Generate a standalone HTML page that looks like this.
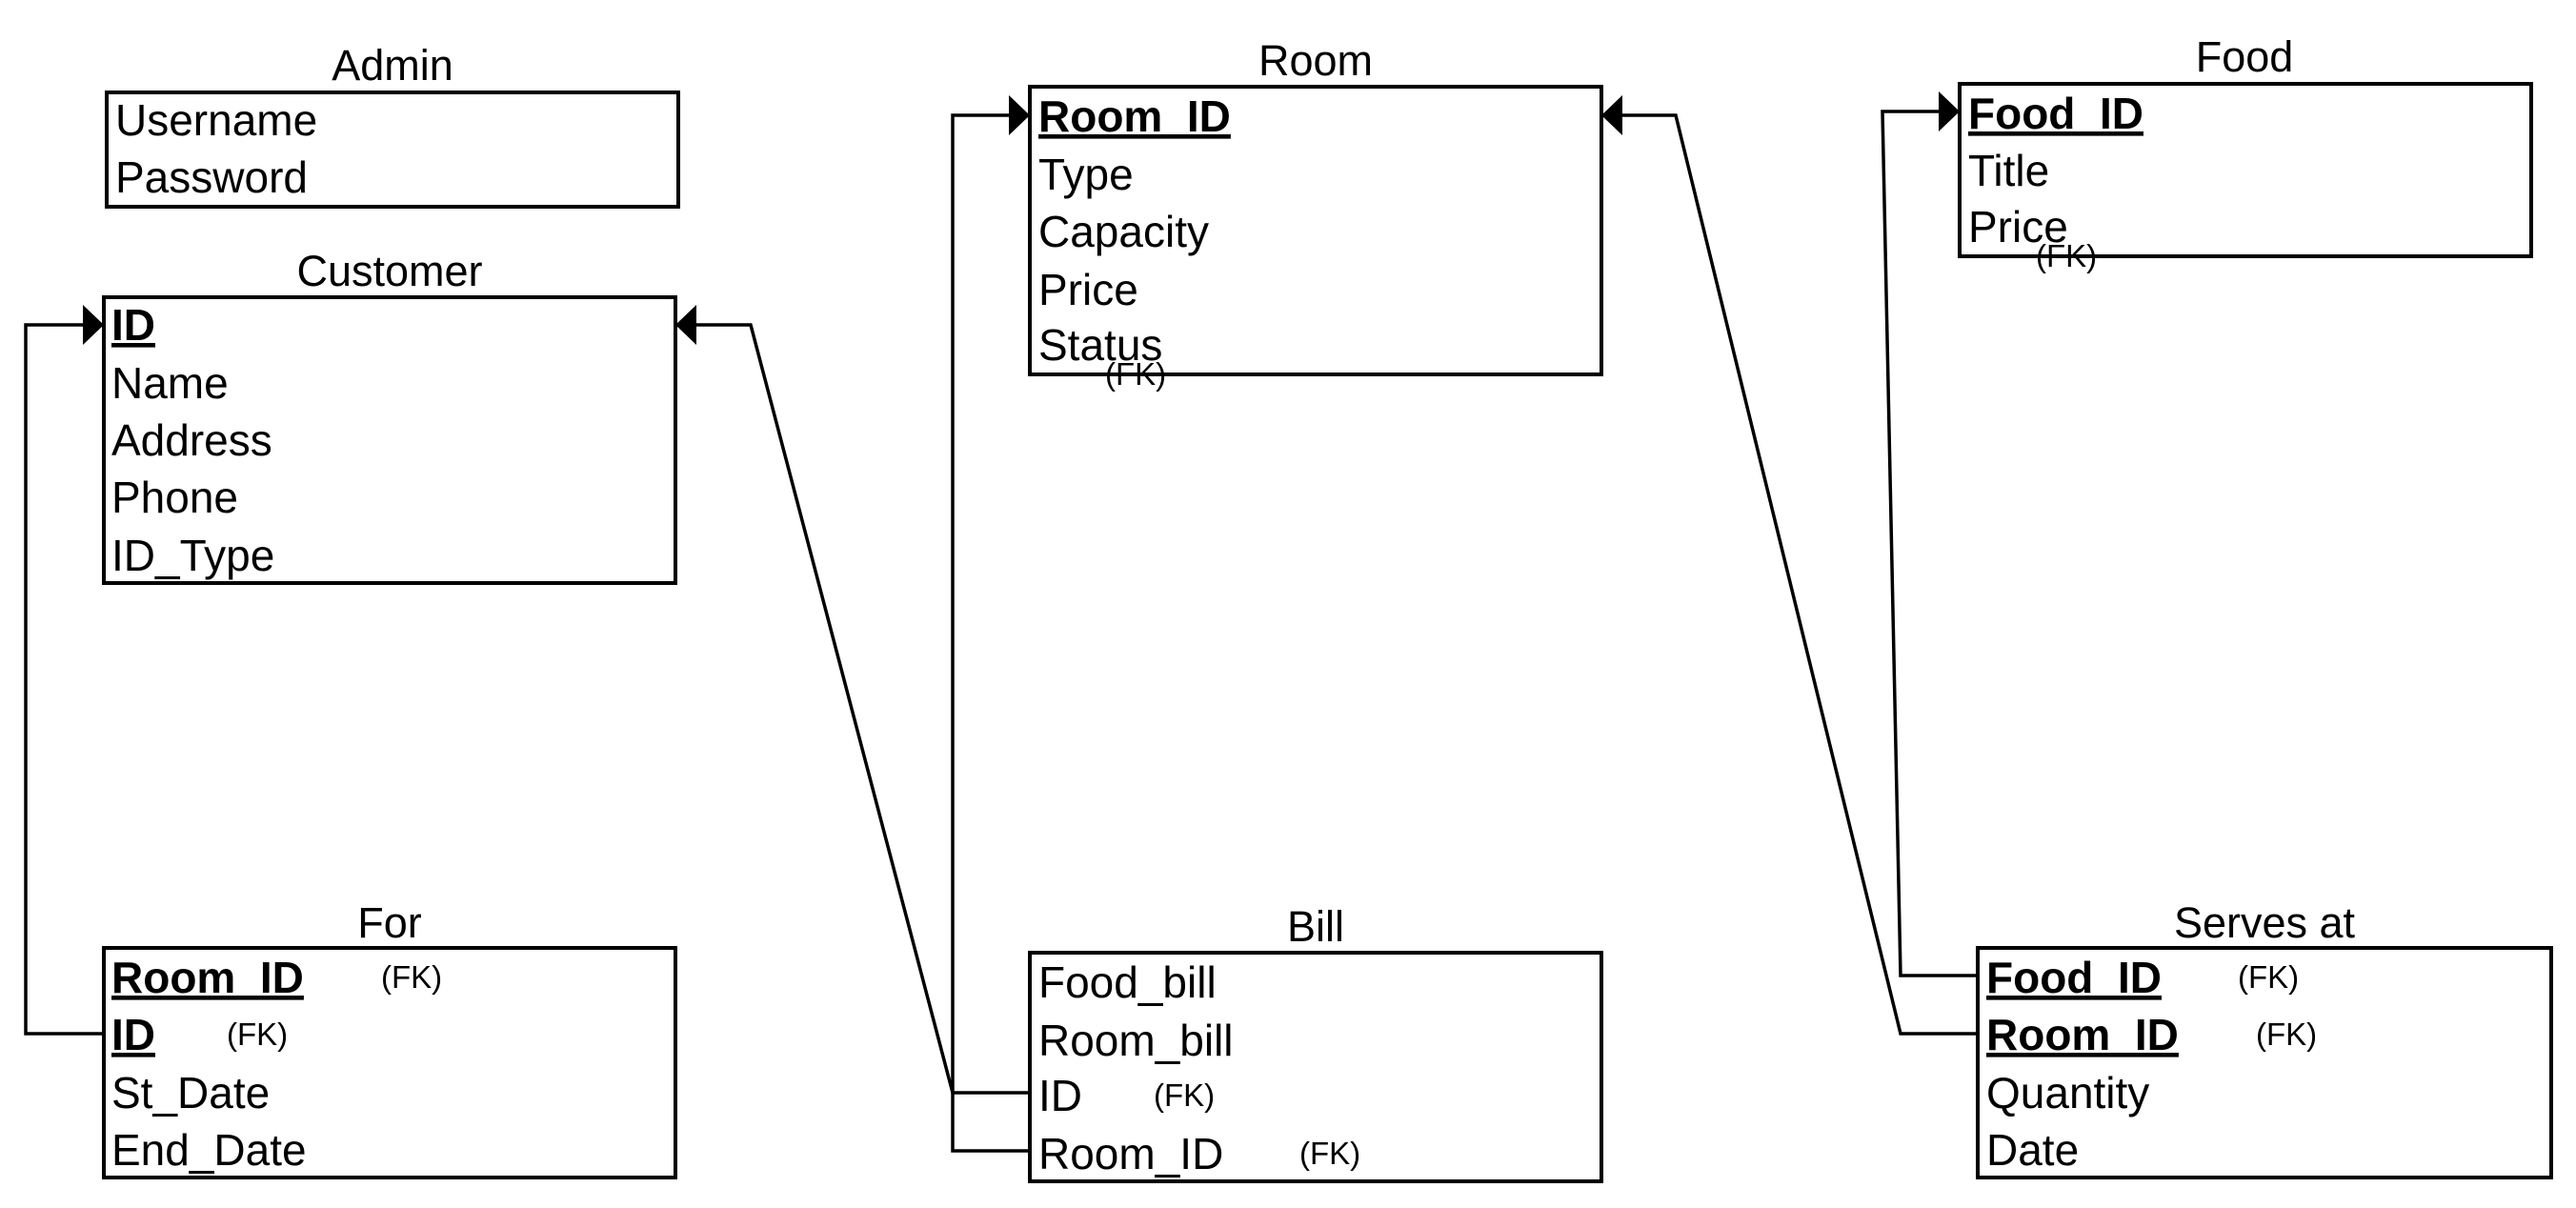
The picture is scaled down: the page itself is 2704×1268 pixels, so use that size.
<!DOCTYPE html>
<html><head><meta charset="utf-8"><style>
html,body{margin:0;padding:0;background:#fff;}
svg{display:block;}
text{font-family:"Liberation Sans",Arial,sans-serif;fill:#000;}
.t{font-size:46px;}
.h{font-size:45px;text-anchor:middle;}
.b{font-size:46px;font-weight:bold;text-decoration:underline;}
.fk{font-size:33px;}
.box{fill:none;stroke:#000;stroke-width:4;}
.ln{fill:none;stroke:#000;stroke-width:3.5;}
</style></head><body>
<svg width="2704" height="1268" viewBox="0 0 2704 1268" xmlns="http://www.w3.org/2000/svg">
<!-- Admin -->
<text class="h" x="412" y="84">Admin</text>
<rect class="box" x="112" y="97" width="600" height="120"/>
<text class="t" x="121" y="126" dy="16">Username</text>
<text class="t" x="121" y="186" dy="16">Password</text>
<!-- Customer -->
<text class="h" x="409" y="300">Customer</text>
<rect class="box" x="109" y="312" width="600" height="300"/>
<text class="b" x="117" y="341" dy="16">ID</text>
<text class="t" x="117" y="402" dy="16">Name</text>
<text class="t" x="117" y="462" dy="16">Address</text>
<text class="t" x="117" y="522" dy="16">Phone</text>
<text class="t" x="117" y="583" dy="16">ID_Type</text>
<!-- Room -->
<text class="h" x="1381" y="79">Room</text>
<rect class="box" x="1081" y="91" width="600" height="302"/>
<text class="b" x="1090" y="122" dy="16">Room_ID</text>
<text class="t" x="1090" y="183" dy="16">Type</text>
<text class="t" x="1090" y="243" dy="16">Capacity</text>
<text class="t" x="1090" y="304" dy="16">Price</text>
<text class="t" x="1090" y="362" dy="16">Status</text>
<text class="fk" x="1160" y="393" dy="11">(FK)</text>
<!-- Food -->
<text class="h" x="2356" y="75">Food</text>
<rect class="box" x="2057" y="88" width="600" height="181"/>
<text class="b" x="2066" y="119" dy="16">Food_ID</text>
<text class="t" x="2066" y="179" dy="16">Title</text>
<text class="t" x="2066" y="238" dy="16">Price</text>
<text class="fk" x="2137" y="269" dy="11">(FK)</text>
<!-- For -->
<text class="h" x="409" y="984">For</text>
<rect class="box" x="109" y="995" width="600" height="241"/>
<text class="b" x="117" y="1026" dy="16">Room_ID</text>
<text class="fk" x="400" y="1026" dy="11">(FK)</text>
<text class="b" x="117" y="1086" dy="16">ID</text>
<text class="fk" x="238" y="1086" dy="11">(FK)</text>
<text class="t" x="117" y="1147" dy="16">St_Date</text>
<text class="t" x="117" y="1207" dy="16">End_Date</text>
<!-- Bill -->
<text class="h" x="1381" y="988">Bill</text>
<rect class="box" x="1081" y="1000" width="600" height="240"/>
<text class="t" x="1090" y="1031" dy="16">Food_bill</text>
<text class="t" x="1090" y="1092" dy="16">Room_bill</text>
<text class="t" x="1090" y="1150" dy="16">ID</text>
<text class="fk" x="1211" y="1150" dy="11">(FK)</text>
<text class="t" x="1090" y="1211" dy="16">Room_ID</text>
<text class="fk" x="1364" y="1211" dy="11">(FK)</text>
<!-- Serves at -->
<text class="h" x="2377" y="984">Serves at</text>
<rect class="box" x="2076" y="995" width="602" height="241"/>
<text class="b" x="2085" y="1026" dy="16">Food_ID</text>
<text class="fk" x="2349" y="1026" dy="11">(FK)</text>
<text class="b" x="2085" y="1086" dy="16">Room_ID</text>
<text class="fk" x="2368" y="1086" dy="11">(FK)</text>
<text class="t" x="2085" y="1147" dy="16">Quantity</text>
<text class="t" x="2085" y="1207" dy="16">Date</text>
<!-- Connectors -->
<polyline class="ln" points="109,1085 27,1085 27,341 90,341"/>
<polygon points="109,341 87,320 87,362"/>
<polyline class="ln" points="1081,1147 1000,1147 788,341 728,341"/>
<polygon points="709,341 731,320 731,362"/>
<polyline class="ln" points="1081,1208 1000,1208 1000,121 1062,121"/>
<polygon points="1081,121 1059,100 1059,142"/>
<polyline class="ln" points="2076,1085 1995,1085 1759,121 1700,121"/>
<polygon points="1681,121 1703,100 1703,142"/>
<polyline class="ln" points="2076,1024 1995,1024 1976,117 2038,117"/>
<polygon points="2057,117 2035,96 2035,138"/>
</svg>
</body></html>
